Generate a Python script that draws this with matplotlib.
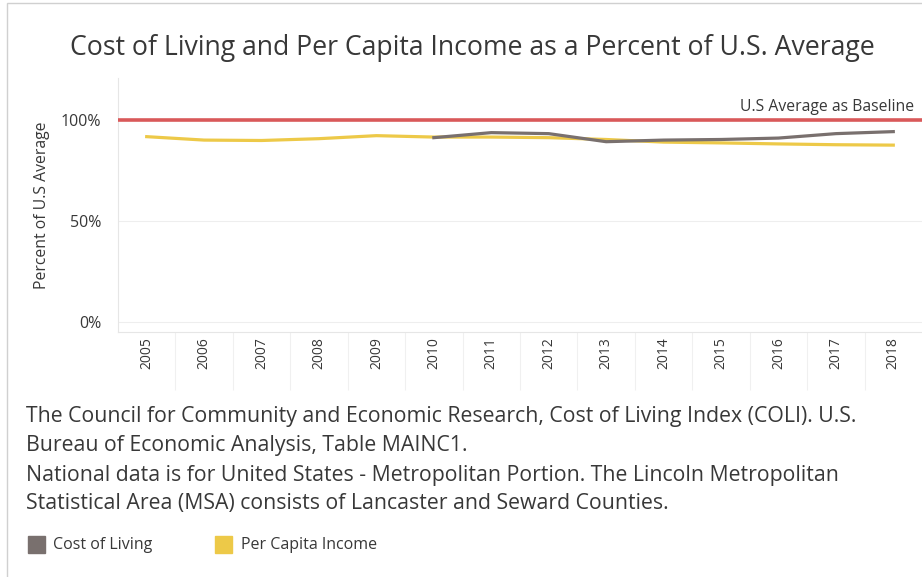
import matplotlib.pyplot as plt
from matplotlib.patches import Rectangle

plt.rcParams['font.family'] = ['Open Sans', 'DejaVu Sans']

years = [2005, 2006, 2007, 2008, 2009, 2010, 2011, 2012, 2013, 2014, 2015, 2016, 2017, 2018]
income = [91.9, 90.2, 90.0, 90.9, 92.4, 91.7, 91.7, 91.4, 90.5, 89.2, 88.8, 88.3, 87.9, 87.7]
col_years = [2010, 2011, 2012, 2013, 2014, 2015, 2016, 2017, 2018]
cost_of_living = [91.4, 93.9, 93.4, 89.4, 90.2, 90.5, 91.2, 93.4, 94.4]
baseline = 100
yticks = [0, 50, 100]
ytick_labels = ["0%", "50%", "100%"]

footer_lines = [
    "The Council for Community and Economic Research, Cost of Living Index (COLI). U.S.",
    "Bureau of Economic Analysis, Table MAINC1.",
    "National data is for United States - Metropolitan Portion. The Lincoln Metropolitan",
    "Statistical Area (MSA) consists of Lancaster and Seward Counties.",
]

grey = "#79706e"
yellow = "#edc948"
red = "#d9595a"
text_col = "#383838"

fig = plt.figure(figsize=(9.22, 5.77), dpi=100)
ax = fig.add_axes([118 / 922, 1 - 332 / 577, 804 / 922, 254 / 577])

ax.axhline(baseline, color=red, lw=2.6, zorder=3)
ax.plot(years, income, color=yellow, lw=2.3, zorder=4)
ax.plot(col_years, cost_of_living, color=grey, lw=2.3, zorder=5)
ax.text(2018.36, baseline + 2.5, "U.S Average as Baseline", ha="right", va="bottom",
        fontsize=11.3, color=text_col)

ax.set_xlim(2004.5, 2018.5)
ax.set_ylim(-5, 121)
ax.set_yticks(yticks)
ax.set_yticklabels(ytick_labels, fontsize=11.5, color=text_col)
ax.set_xticks(years)
ax.set_xticklabels([str(y) for y in years], rotation=90, fontsize=10, color=text_col)
ax.set_xticks([y + 0.5 for y in years[:-1]], minor=True)
ax.tick_params(axis="x", which="major", length=0, pad=4)
ax.tick_params(axis="x", which="minor", length=42, color="#f0f0f0", width=0.8)
ax.tick_params(axis="y", length=0, pad=12)
ax.grid(axis="y", color="#eeeeee", lw=0.8)
ax.set_axisbelow(True)
for s in ["top", "right"]:
    ax.spines[s].set_visible(False)
for s in ["left", "bottom"]:
    ax.spines[s].set_color("#e6e6e6")
    ax.spines[s].set_linewidth(0.8)
ax.set_ylabel("Percent of U.S Average", fontsize=11.3, color=text_col, labelpad=8)

fig.text(472 / 922, 1 - 48 / 577, "Cost of Living and Per Capita Income as a Percent of U.S. Average",
         ha="center", va="center", fontsize=19.2, color=text_col)

for line, yp in zip(footer_lines, [414, 443, 473, 501]):
    fig.text(26 / 922, 1 - yp / 577, line, ha="left", va="center_baseline", fontsize=15.3,
             color=text_col)

# legend
fig.patches.append(Rectangle((28 / 922, 1 - 553 / 577), 17 / 922, 17 / 577,
                             transform=fig.transFigure, color=grey, figure=fig))
fig.text(53 / 922, 1 - 545 / 577, "Cost of Living", ha="left", va="center", fontsize=11.5, color=text_col)
fig.patches.append(Rectangle((215 / 922, 1 - 553 / 577), 17 / 922, 17 / 577,
                             transform=fig.transFigure, color=yellow, figure=fig))
fig.text(241 / 922, 1 - 545 / 577, "Per Capita Income", ha="left", va="center", fontsize=11.5, color=text_col)

# outer border
fig.patches.append(Rectangle((7 / 922, -0.01), 1.0, 1 - 3 / 577 + 0.01, transform=fig.transFigure,
                             fill=False, edgecolor="#d0d0d0", lw=1, figure=fig))

fig.savefig("out.png", dpi=100)
